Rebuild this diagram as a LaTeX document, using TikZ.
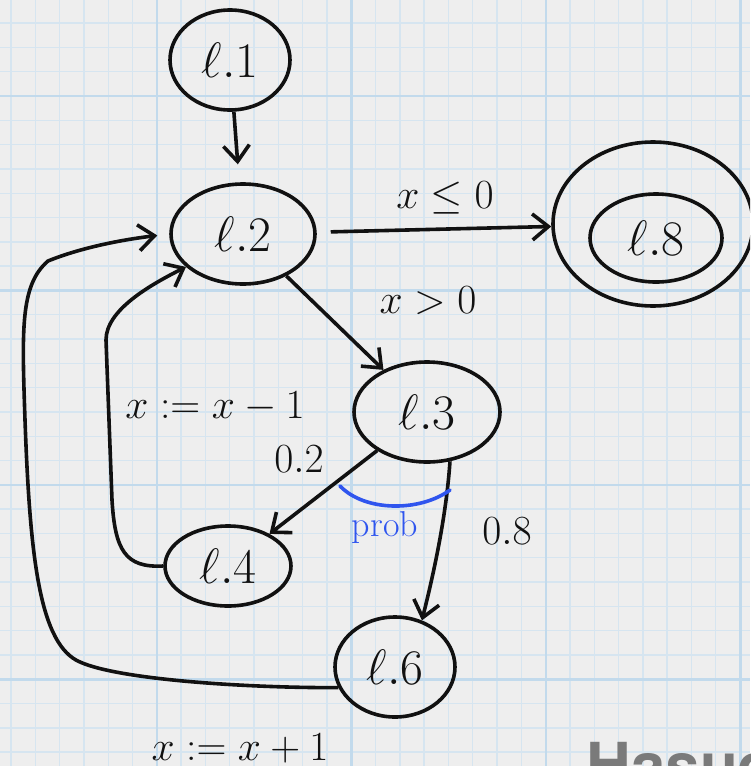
\documentclass[tikz,border=0pt]{standalone}
\usepackage{fontspec}
\usepackage{tikz}
\usetikzlibrary{arrows.meta,positioning,shapes.geometric}
\newfontfamily\stampfont{TeX Gyre Heros}
\definecolor{paper}{HTML}{EEEEEE}
\definecolor{gridminor}{HTML}{D6E5F0}
\definecolor{gridmajor}{HTML}{C2DAEC}
\definecolor{pen}{HTML}{111111}
\definecolor{penblue}{HTML}{2F55EE}
\definecolor{stampgray}{HTML}{7A7A7A}

\begin{document}
\begin{tikzpicture}[
  x=0.5pt, y=-0.5pt,
  every node/.style={font=\fontsize{20}{24}\selectfont, text=pen},
  minorline/.style={draw=gridminor, line width=0.7pt},
  majorline/.style={draw=gridmajor, line width=1.2pt},
  loc/.style={draw=pen, ellipse, line width=1.8pt, inner sep=0pt, font=\fontsize{28}{32}\selectfont},
  arr/.style={-{Straight Barb[length=8pt,width=13pt]}, line width=1.8pt, draw=pen},
  penmark/.style={draw=penblue, line width=1.8pt, line cap=round}
]
\useasboundingbox (0,0) rectangle (750,766);
\clip (0,0) rectangle (750,766);
\fill[paper] (0,0) rectangle (750,766);
\foreach \k in {0,...,30} {
  \draw[minorline] ({11+24.3*\k},0) -- ({11+24.3*\k},766);
  \draw[minorline] (0,{23.1+24.3*\k}) -- (750,{23.1+24.3*\k});
}
\foreach \k in {0,...,3} {
  \draw[majorline] ({157+194.5*\k},0) -- ({157+194.5*\k},766);
  \draw[majorline] (0,{96+194.5*\k}) -- (750,{96+194.5*\k});
}

\node[loc, minimum width=60pt, minimum height=50pt] (l1) at (230,60) {$\ell.1$};
\node[loc, minimum width=72pt, minimum height=50pt] (l2) at (243,234) {$\ell.2$};
\node[loc, minimum width=73pt, minimum height=50pt] (l3) at (427,412) {$\ell.3$};
\node[loc, minimum width=63pt, minimum height=40pt] (l4) at (228,566) {$\ell.4$};
\node[loc, minimum width=60pt, minimum height=50pt] (l6) at (395,667) {$\ell.6$};
\node[loc, minimum width=66pt, minimum height=44pt] (l8) at (656,238) {$\ell.8$};
\node[loc, minimum width=100pt, minimum height=82pt] (l8out) at (653,224) {};

\node (gle) at (445,198) {$x\le 0$};
\node (ggt) at (428,301) {$x>0$};
\node (dec) at (215,407) {$x:=x-1$};
\node (p2) at (299,459) {$0.2$};
\node (p8) at (507,531) {$0.8$};
\node (inc) at (240,748) {$x:=x+1$};
\node[text=penblue, font=\fontsize{18}{22}\selectfont] (prob) at (385,528) {prob};
\node[anchor=base west, inner sep=0pt, text=stampgray, font=\stampfont\bfseries\fontsize{31}{36}\selectfont] (stamp) at (586,787) {Hasuo};

\draw[arr, shorten >=9pt] (l1) -- (l2);
\draw[arr, shorten <=7pt] (l2) -- (l8out);
\draw[arr] (l2) -- (l3);
\draw[arr] (l3) -- (l4);
\draw[arr] (l3.-65) .. controls (446,520) and (432,580) .. (l6.60);
\draw[arr] (l4.west) .. controls (125,568) and (115,550) .. (112,500)
  -- (106,340) .. controls (106,310) and (150,285) .. (l2.210);
\draw[arr, shorten >=6pt] (l6.200) .. controls (250,688) and (120,680) .. (80,662)
  .. controls (40,645) and (30,560) .. (25,420)
  .. controls (22,330) and (20,285) .. (48,261)
  .. controls (80,248) and (120,240) .. (l2.west);
\draw[penmark] (340,486) .. controls (365,512) and (420,512) .. (450,490);
\end{tikzpicture}
\end{document}
